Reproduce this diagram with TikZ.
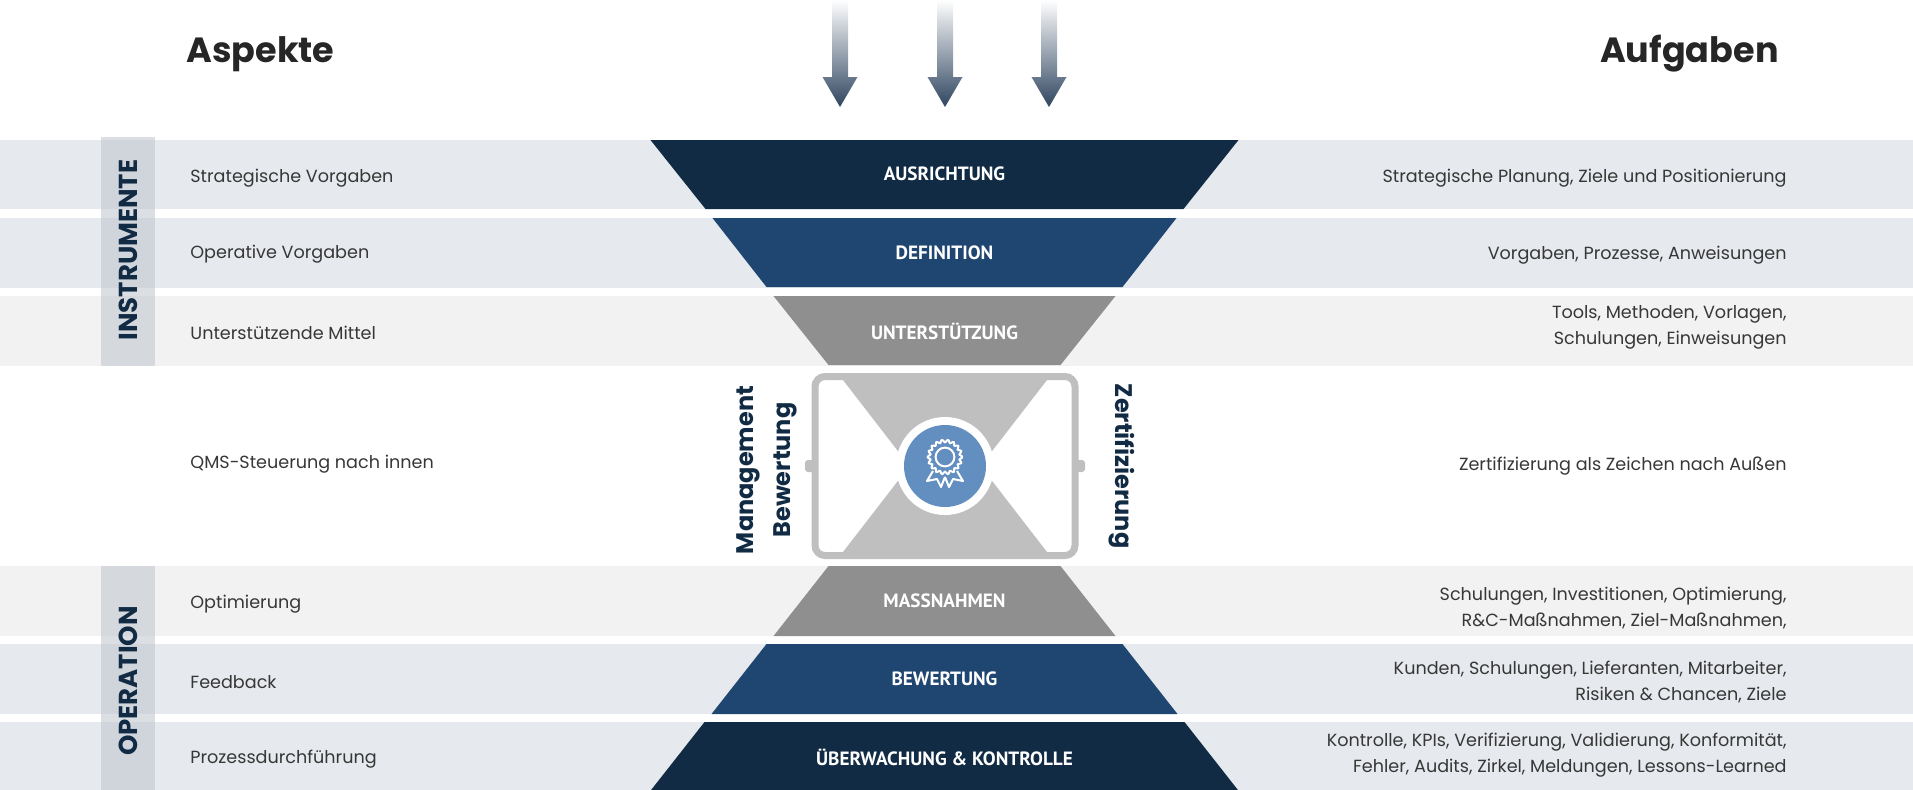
\documentclass[tikz,border=0pt]{standalone}
\usepackage{fontspec}
\setmainfont{Poppins}
\newfontfamily\stagefont{PT Sans}
\usepackage{xcolor}

\definecolor{qmNavy}{RGB}{18,43,68}
\definecolor{qmBlue}{RGB}{31,69,113}
\definecolor{qmGray}{RGB}{143,143,143}
\definecolor{qmLight}{RGB}{191,191,191}
\definecolor{qmRing}{RGB}{98,142,192}
\definecolor{qmBand}{RGB}{230,233,237}
\definecolor{qmBandL}{RGB}{242,242,242}
\definecolor{qmBar}{RGB}{190,196,205}
\definecolor{qmText}{RGB}{55,55,55}
\definecolor{qmHead}{RGB}{38,38,38}
\definecolor{qmArrowMid}{RGB}{200,209,218}
\definecolor{qmArrowEnd}{RGB}{47,69,96}

\begin{document}
\begin{tikzpicture}[x=0.5pt,y=-0.5pt,
  aspect/.style={anchor=west, inner sep=0pt, text=qmText, font=\fontsize{8.8}{13}\selectfont},
  task/.style={anchor=east, inner sep=0pt, align=right, text=qmText, font=\fontsize{8.8}{13}\selectfont},
  stage/.style={inner sep=0pt, text=white, font=\stagefont\bfseries\fontsize{9.6}{11}\selectfont},
  side/.style={inner sep=0pt, rotate=90, text=qmNavy, font=\bfseries\fontsize{13}{15}\selectfont},
  review/.style={inner sep=0pt, text=qmNavy, font=\bfseries\fontsize{12}{14}\selectfont},
  heading/.style={inner sep=0pt, text=qmHead, font=\bfseries\fontsize{17.5}{20}\selectfont}]
\useasboundingbox (0,0) rectangle (1913,789);
\def\cx{944.5}

% bands
\fill[qmBand]  (0,140) rectangle (1913,209);
\fill[qmBand]  (0,218) rectangle (1913,288);
\fill[qmBandL] (0,296) rectangle (1913,366);
\fill[qmBandL] (0,566) rectangle (1913,636);
\fill[qmBand]  (0,644) rectangle (1913,714);
\fill[qmBand]  (0,722) rectangle (1913,792);

% side bars
\fill[qmBar, opacity=0.55] (101,137) rectangle (155,366);
\fill[qmBar, opacity=0.55] (101,566) rectangle (155,792);

% funnel top
\fill[qmNavy] (\cx-294,140) -- (\cx+294,140) -- (\cx+239,209) -- (\cx-239,209) -- cycle;
\fill[qmBlue] (\cx-232,218) -- (\cx+232,218) -- (\cx+178,287) -- (\cx-178,287) -- cycle;
\fill[qmGray] (\cx-171,296) -- (\cx+171,296) -- (\cx+116,365) -- (\cx-116,365) -- cycle;

% funnel bottom
\fill[qmGray] (\cx-116,566) -- (\cx+116,566) -- (\cx+171,636) -- (\cx-171,636) -- cycle;
\fill[qmBlue] (\cx-178,644) -- (\cx+178,644) -- (\cx+233,714) -- (\cx-233,714) -- cycle;
\fill[qmNavy] (\cx-240,722) -- (\cx+240,722) -- (\cx+295,792) -- (\cx-295,792) -- cycle;

% bracket and hourglass
\draw[qmLight, line width=3.5pt, rounded corners=5pt] (815,376.5) rectangle (1075,555.5);
\fill[qmLight, rounded corners=1.5pt] (805,460) rectangle (816,472);
\fill[qmLight, rounded corners=1.5pt] (1074,460) rectangle (1085,472);
\fill[qmLight] (843,380) -- (1047,380) -- (945,512) -- cycle;
\fill[qmLight] (843,552) -- (1047,552) -- (945,420) -- cycle;

% badge
\fill[white] (945,466) circle [radius=24.5pt];
\fill[qmRing] (945,466) circle [radius=20.5pt];
\draw[white, line width=1pt] plot[domain=0:360, samples=145, smooth, variable=\t]
  ({945+(16+1.3*cos(18*\t))*cos(\t)}, {457+(16+1.3*cos(18*\t))*sin(\t)});
\draw[white, line width=1pt] (945,457) circle [radius=4.7pt];
\draw[white, line width=1pt, line join=round] (933,471) -- (927,481) -- (937,479) -- (941,487) -- (945,477);
\draw[white, line width=1pt, line join=round] (957,471) -- (963,481) -- (953,479) -- (949,487) -- (945,477);

% arrows
\shade[top color=white, middle color=qmArrowMid, bottom color=qmArrowEnd]
  (832,0) -- (848,0) -- (848,77) -- (857.5,77) -- (840,107) -- (822.5,77) -- (832,77) -- cycle;
\shade[top color=white, middle color=qmArrowMid, bottom color=qmArrowEnd]
  (937,0) -- (953,0) -- (953,77) -- (962.5,77) -- (945,107) -- (927.5,77) -- (937,77) -- cycle;
\shade[top color=white, middle color=qmArrowMid, bottom color=qmArrowEnd]
  (1041,0) -- (1057,0) -- (1057,77) -- (1066.5,77) -- (1049,107) -- (1031.5,77) -- (1041,77) -- cycle;

% headings
\node[heading, anchor=base west] (aspekte) at (186,62) {Aspekte};
\node[heading, anchor=base east] (aufgaben) at (1779,62) {Aufgaben};

% side labels
\node[side] (instr) at (128,250) {INSTRUMENTE};
\node[side] (oper) at (128,681) {OPERATION};

% stage labels
\node[stage] (ausr) at (\cx,174) {AUSRICHTUNG};
\node[stage] (defi) at (\cx,253) {DEFINITION};
\node[stage] (unter) at (\cx,331) {UNTERSTÜTZUNG};
\node[stage] (mass) at (\cx,601) {MASSNAHMEN};
\node[stage] (bew) at (\cx,679) {BEWERTUNG};
\node[stage] (ueber) at (\cx,757) {ÜBERWACHUNG \& KONTROLLE};

% review labels
\node[review, rotate=90] (mgmt) at (748,470) {Management};
\node[review, rotate=90] (mgmtb) at (785,470) {Bewertung};
\node[review, rotate=-90] (zert) at (1122,466) {Zertifizierung};

% aspects
\node[aspect] (a1) at (190,178) {Strategische Vorgaben};
\node[aspect] (a2) at (190,254) {Operative Vorgaben};
\node[aspect] (a3) at (190,333) {Unterstützende Mittel};
\node[aspect] (a4) at (190,464) {QMS-Steuerung nach innen};
\node[aspect] (a5) at (190,604) {Optimierung};
\node[aspect] (a6) at (190,682) {Feedback};
\node[aspect] (a7) at (190,759) {Prozessdurchführung};

% tasks
\node[task] (t1) at (1787,178) {Strategische Planung, Ziele und Positionierung};
\node[task] (t2) at (1787,255) {Vorgaben, Prozesse, Anweisungen};
\node[task] (t3) at (1787,327) {Tools, Methoden, Vorlagen,\\Schulungen, Einweisungen};
\node[task] (t4) at (1787,466) {Zertifizierung als Zeichen nach Außen};
\node[task] (t5) at (1787,608) {Schulungen, Investitionen, Optimierung,\\R\&C-Maßnahmen, Ziel-Maßnahmen,};
\node[task] (t6) at (1787,682) {Kunden, Schulungen, Lieferanten, Mitarbeiter,\\Risiken \& Chancen, Ziele};
\node[task] (t7) at (1787,755) {Kontrolle, KPIs, Verifizierung, Validierung, Konformität,\\Fehler, Audits, Zirkel, Meldungen, Lessons-Learned};

\end{tikzpicture}
\end{document}
